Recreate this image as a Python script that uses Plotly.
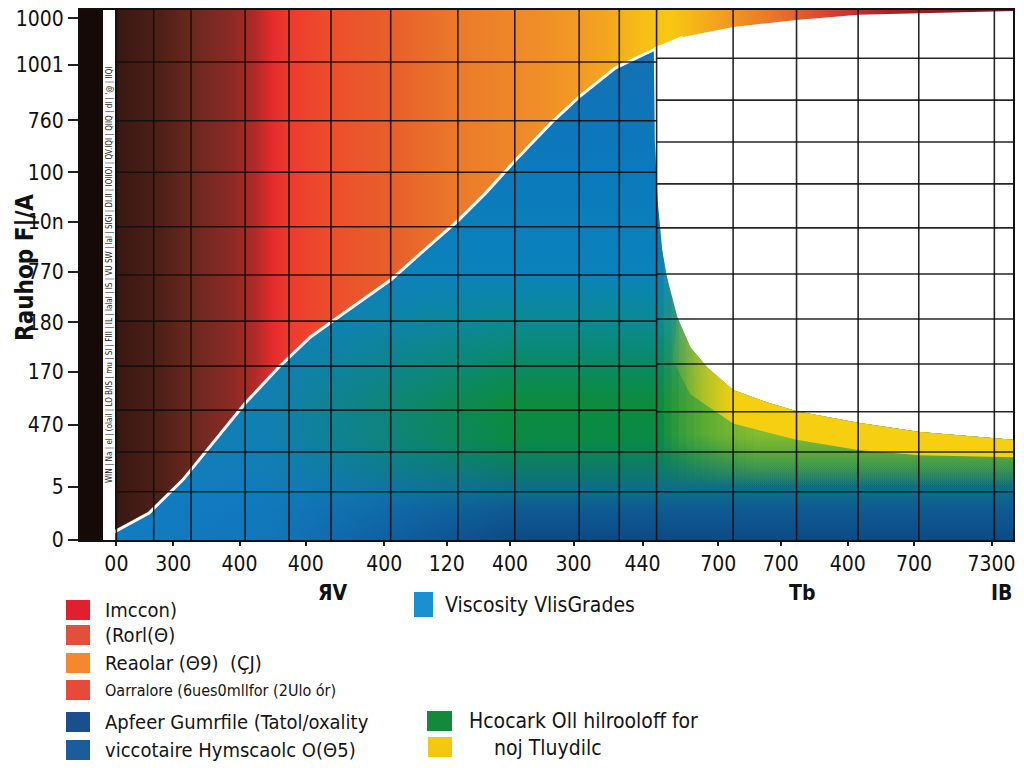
import numpy as np
import plotly.graph_objects as go

# ---------------- data ----------------
x_tick_vals = [3.9, 10.0, 17.1, 24.2, 32.6, 39.3, 46.1, 52.9, 60.3, 68.4, 75.1, 82.3, 89.4, 97.7]
x_tick_text = ["00", "300", "400", "400", "400", "120", "400", "300", "440", "700", "700", "400", "700", "7300"]

y_tick_vals = [98.4, 89.6, 79.2, 69.4, 60.0, 50.6, 41.1, 31.7, 21.7, 10.0, 0]
y_tick_text = ["1000", "1001", "760", "100", "10n", "770", "180", "170", "470", "5", "0"]

# rising S-curve (top edge of the blue area)
s_x = [2.7, 7.4, 11.0, 14.8, 17.7, 21.3, 24.7, 26.9, 30.3, 33.4, 36.9, 40.6, 43.5, 46.7, 50.5, 53.5, 57.4, 61.5]
s_y = [0.6, 5.1, 11.3, 19.4, 25.8, 32.6, 38.3, 41.1, 45.3, 49.2, 54.7, 60.4, 65.5, 71.7, 78.7, 83.6, 89.1, 92.5]

# falling tail (right edge of the blue / green / yellow area)
t_x = [61.5, 61.6, 61.9, 62.4, 62.9, 64.0, 65.4, 67.2, 70.0, 73.6, 76.8, 83.4, 90.0, 100.0]
t_y = [92.5, 75.5, 64.2, 54.7, 49.6, 42.1, 36.4, 32.6, 28.3, 26.0, 24.3, 22.1, 20.4, 18.9]

# lower edge of the solid yellow band under the tail
yl_x = [100.0, 90.0, 83.4, 76.8, 70.0, 65.4, 63.5]
yl_y = [15.6, 16.0, 17.0, 18.9, 22.0, 27.5, 34.0]

# lower edge of the thin top band (upper edge of the white area)
w_x = [61.6, 64.6, 70.0, 76.8, 83.4, 90.0, 100.0]
w_y = [93.0, 94.9, 96.8, 98.1, 99.1, 99.4, 99.8]

# grid
grid_x = [3.9, 7.9, 11.9, 17.7, 22.4, 26.9, 33.3, 40.5, 46.6, 53.5, 57.8, 61.8, 70.0, 76.8, 83.4, 89.9, 98.0]
grid_y_left = [90.2, 79.1, 69.4, 59.1, 50.0, 41.3, 32.8, 24.5, 16.6, 9.1]
grid_y_right = [90.9, 83.0, 75.1, 67.2, 58.9, 50.2, 41.7, 33.2, 24.2, 16.6, 9.1]

legend_left_labels = ["Imccon)", "(Rorl(Θ)", "Reaolar (Θ9)  (ÇJ)",
                      "Oarralore (6ues0mllfor (2Ulo ór)",
                      "Apfeer Gumrfile (Tatol/oxality", "viccotaire Hymscaolc O(Θ5)"]
legend_left_colors = ["#e0202e", "#e0503a", "#f5882e", "#e64a3a", "#1a4f8e", "#1a5c9c"]
legend_right_labels = ["Viscosity VlisGrades", "Hcocark Oll hilrooloff for", "noj Tluydilc"]
legend_right_colors = ["#1a90d0", "#14893c", "#f5c810"]

FONT = "DejaVu Sans Condensed, Liberation Sans Narrow, Liberation Sans, Arial, sans-serif"

# plot area in page pixels (the page body adds an 8px offset)
PAGE_OFF = 8
L, R, T, B = 80, 1013, 10, 540


def px_x(p):
    return (p - L) / (R - L)


def px_y(p):
    return (B - p) / (B - T)


NOLINE = dict(width=0, color="rgba(0,0,0,0)")
fig = go.Figure()

# background warm gradient
bg_scale = [
    [0.000, "#2a100c"], [0.040, "#3a1812"], [0.086, "#4e2018"], [0.119, "#6a281e"],
    [0.161, "#8a2a24"], [0.188, "#b02a28"], [0.204, "#e22a2c"], [0.225, "#ee3a2e"],
    [0.268, "#ec4e2c"], [0.343, "#e8622a"], [0.407, "#ec7a2a"], [0.493, "#f08e28"],
    [0.557, "#f3a222"], [0.600, "#f6bc18"], [0.632, "#f8c812"], [0.686, "#f3a020"],
    [0.750, "#e8702a"], [0.804, "#d84030"], [0.857, "#b82228"], [0.932, "#8a1820"],
    [1.000, "#6a1020"],
]
fig.add_trace(go.Scatter(
    x=[3.8, 100, 100, 3.8, 3.8], y=[0, 0, 100, 100, 0], mode="lines",
    fill="toself", line=NOLINE,
    fillgradient=dict(type="horizontal", colorscale=bg_scale, start=0, stop=100),
    hoverinfo="skip", showlegend=False))

# white area (top right)
wx = w_x + [t_x[-1]] + t_x[::-1]
wy = w_y + [t_y[-1]] + t_y[::-1]
fig.add_trace(go.Scatter(
    x=wx, y=wy, mode="lines", fill="toself", fillcolor="#ffffff",
    line=NOLINE, hoverinfo="skip", showlegend=False))

# blue / green main area
bx = s_x + t_x[1:] + [100, s_x[0]]
by = s_y + t_y[1:] + [0, 0]
blue_scale = [
    [0.000, "#0c4a86"], [0.060, "#0e5a92"], [0.098, "#0f6b8c"], [0.143, "#0c7a6a"],
    [0.204, "#0a8a45"], [0.285, "#0b8c3e"], [0.367, "#0a8a6a"], [0.449, "#0a8a95"],
    [0.550, "#0a82bb"], [0.800, "#0c78bb"], [1.000, "#1570b5"],
]
fig.add_trace(go.Scatter(
    x=bx, y=by, mode="lines", fill="toself", line=NOLINE,
    fillgradient=dict(type="vertical", colorscale=blue_scale, start=0, stop=92.5),
    hoverinfo="skip", showlegend=False))

# left blue overlay (keeps the area under the S-curve blue)
n_left = 10
ox = s_x[:n_left] + [46, 46, s_x[0]]
oy = s_y[:n_left] + [s_y[n_left - 1], 0, 0]
fig.add_trace(go.Scatter(
    x=ox, y=oy, mode="lines", fill="toself", line=NOLINE,
    fillgradient=dict(type="horizontal",
                      colorscale=[[0, "rgba(18,125,195,1)"], [0.45, "rgba(18,125,195,0.85)"],
                                  [1, "rgba(18,125,195,0)"]],
                      start=0, stop=46),
    hoverinfo="skip", showlegend=False))

# yellow-green glow under the tail: nested faint layers fade it in from the left
layer_starts = [62.6, 63.4, 64.2, 65.0, 65.8, 66.6, 67.4, 68.2, 69.0, 69.8, 70.6, 71.4, 72.2]
n_layers = len(layer_starts)
a_top = 1 - (1 - 0.8) ** (1 / n_layers)
a_mid = 1 - (1 - 0.55) ** (1 / n_layers)
for xa in layer_starts:
    inner = [(x, y) for x, y in zip(t_x, t_y) if x > xa]
    top_x = [xa] + [p[0] for p in inner]
    top_y = [float(np.interp(xa, t_x, t_y))] + [p[1] for p in inner]
    fig.add_trace(go.Scatter(
        x=top_x + [100.0, xa], y=top_y + [10.0, 10.0], mode="lines", fill="toself", line=NOLINE,
        fillgradient=dict(type="vertical",
                          colorscale=[[0, "rgba(110,175,55,0)"],
                                      [0.5, f"rgba(130,185,50,{a_mid:.3f})"],
                                      [1, f"rgba(165,200,40,{a_top:.3f})"]],
                          start=10.0, stop=20.0),
        hoverinfo="skip", showlegend=False))

# solid yellow band following the tail
k0 = 5
yx = t_x[k0:] + yl_x
yy = t_y[k0:] + yl_y
fig.add_trace(go.Scatter(
    x=yx, y=yy, mode="lines", fill="toself", line=NOLINE,
    fillgradient=dict(type="horizontal",
                      colorscale=[[0, "rgba(200,200,40,0)"], [0.3, "rgba(220,205,30,0.6)"],
                                  [0.6, "rgba(246,208,16,1)"], [1, "rgba(246,208,16,1)"]],
                      start=63.0, stop=75.0),
    hoverinfo="skip", showlegend=False))

# white outline on the S-curve
fig.add_trace(go.Scatter(
    x=s_x + [w_x[1]], y=s_y + [w_y[1]], mode="lines",
    line=dict(color="#ffffff", width=3), hoverinfo="skip", showlegend=False))

shapes = []
# grid lines drawn above the fills
for gx in grid_x:
    shapes.append(dict(type="line", xref="x", yref="y", x0=gx, x1=gx, y0=0, y1=100,
                       line=dict(color="rgba(15,15,15,0.9)", width=1.6), layer="above"))
for gy in grid_y_left:
    shapes.append(dict(type="line", xref="x", yref="y", x0=2.5, x1=61.8, y0=gy, y1=gy,
                       line=dict(color="rgba(15,15,15,0.9)", width=1.6), layer="above"))
for gy in grid_y_right:
    shapes.append(dict(type="line", xref="x", yref="y", x0=61.8, x1=100, y0=gy, y1=gy,
                       line=dict(color="rgba(15,15,15,0.9)", width=1.6), layer="above"))
# dark band and white strip at the far left
shapes.append(dict(type="rect", xref="paper", yref="paper", x0=0, x1=px_x(103), y0=0, y1=1,
                   fillcolor="#150a08", line=dict(width=0), layer="above"))
shapes.append(dict(type="rect", xref="paper", yref="paper", x0=px_x(103), x1=px_x(115), y0=0, y1=1,
                   fillcolor="#ffffff", line=dict(width=0), layer="above"))

annotations = []
annotations.append(dict(
    xref="paper", yref="paper", x=px_x(109), y=px_y(275), xanchor="center", yanchor="middle",
    text="WIN | Na | el | (olail | LO B/IS | mu | Sl | FIII | IL | lalal | IS | VU SW | lal | SIGI | DI.II | IOIIOI | QV.IQI | QIIQ | dl | '@ | IIQI",
    textangle=-90, showarrow=False, font=dict(family=FONT, size=8, color="#222")))

# y-axis title
annotations.append(dict(
    xref="paper", yref="paper", x=px_x(25), y=px_y(268), xanchor="center", yanchor="middle",
    text="<b>Rauhop F|/A</b>", textangle=-90, showarrow=False,
    font=dict(family=FONT, size=24, color="#111")))

# secondary x labels
for txt, xp in [("ЯV", 333), ("Tb", 802), ("IB", 1001)]:
    annotations.append(dict(
        xref="paper", yref="paper", x=px_x(xp), y=px_y(593), xanchor="center", yanchor="middle",
        text="<b>" + txt + "</b>", showarrow=False, font=dict(family=FONT, size=21, color="#111")))

# legend, left column
row_y = [610, 635, 663, 690, 722, 750]
for lab, col, ry in zip(legend_left_labels, legend_left_colors, row_y):
    shapes.append(dict(type="rect", xref="paper", yref="paper",
                       x0=px_x(66), x1=px_x(90), y0=px_y(ry + 10), y1=px_y(ry - 10),
                       fillcolor=col, line=dict(width=0)))
    size = 16 if lab.startswith("Oarr") else 20
    annotations.append(dict(
        xref="paper", yref="paper", x=px_x(103), y=px_y(ry), xanchor="left", yanchor="middle",
        text=lab, showarrow=False, font=dict(family=FONT, size=size, color="#151515")))

# legend, right column
right_specs = [(414, 433, 592, 617, 443, 605), (427, 452, 711, 731, 467, 721), (428, 452, 737, 757, 492, 748)]
for lab, col, (sx0, sx1, sy0, sy1, tx, ty) in zip(legend_right_labels, legend_right_colors, right_specs):
    shapes.append(dict(type="rect", xref="paper", yref="paper",
                       x0=px_x(sx0), x1=px_x(sx1), y0=px_y(sy1), y1=px_y(sy0),
                       fillcolor=col, line=dict(width=0)))
    annotations.append(dict(
        xref="paper", yref="paper", x=px_x(tx), y=px_y(ty), xanchor="left", yanchor="middle",
        text=lab, showarrow=False, font=dict(family=FONT, size=21, color="#151515")))

fig.update_layout(
    width=1024 - PAGE_OFF, height=768 - PAGE_OFF,
    margin=dict(l=L - PAGE_OFF, r=1024 - R, t=T - PAGE_OFF, b=768 - B, autoexpand=False),
    paper_bgcolor="#ffffff", plot_bgcolor="#150a08",
    showlegend=False, shapes=shapes, annotations=annotations,
    font=dict(family=FONT, color="#111"),
    xaxis=dict(range=[0, 100], showgrid=False, zeroline=False, automargin=False,
               tickmode="array", tickvals=x_tick_vals, ticktext=x_tick_text,
               ticks="outside", ticklen=4, tickwidth=1.5, tickcolor="#222",
               ticklabeloverflow="allow",
               tickfont=dict(family=FONT, size=21, color="#111"),
               showline=True, mirror=True, linecolor="#111", linewidth=2),
    yaxis=dict(range=[0, 100], showgrid=False, zeroline=False, automargin=False,
               tickmode="array", tickvals=y_tick_vals, ticktext=y_tick_text,
               ticks="outside", ticklen=10, tickwidth=1.5, tickcolor="#222",
               ticklabeloverflow="allow",
               tickfont=dict(family=FONT, size=21, color="#111"),
               showline=True, mirror=True, linecolor="#111", linewidth=2),
)

fig.write_html("out.html")
